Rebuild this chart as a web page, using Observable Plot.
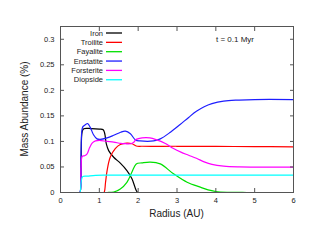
<!DOCTYPE html>
<html>
<head>
<meta charset="utf-8">
<script src="https://cdn.jsdelivr.net/npm/d3@7"></script>
<script src="https://cdn.jsdelivr.net/npm/@observablehq/plot@0.6"></script>
<style>
  html, body { margin: 0; padding: 0; background: #fff; }
  #chart svg { display: block; }
</style>
</head>
<body>
<div id="chart"></div>
<script>
// ---- data ----
const seriesNames = ["Iron", "Troilite", "Fayalite", "Enstatite", "Forsterite", "Diopside"];
const seriesColors = ["#000000", "#ff0000", "#00e000", "#1e1eff", "#ff00ff", "#00ffff"];

const ironR = [0.15, 0.4, 0.47, 0.5, 0.53, 0.56, 0.6, 0.8, 1.0, 1.1, 1.14, 1.18, 1.24, 1.37, 1.54, 1.71, 1.84, 1.95, 1.99, 2.03, 2.1, 2.5, 6];
const ironV = [0, 0, 0, 0, 0.06, 0.12, 0.125, 0.125, 0.124, 0.123, 0.115, 0.095, 0.082, 0.069, 0.0575, 0.043, 0.027, 0.004, 0, 0, 0, 0, 0];

const troiliteR = [0.15, 1.0, 1.07, 1.12, 1.16, 1.2, 1.28, 1.41, 1.54, 1.71, 1.84, 1.95, 2.1, 3, 4, 5, 6];
const troiliteV = [0, 0, 0, 0, 0.02, 0.043, 0.069, 0.086, 0.094, 0.0967, 0.0955, 0.091, 0.0905, 0.0905, 0.0903, 0.0898, 0.0895];

const fayaliteR = [0.15, 1.0, 1.2, 1.37, 1.54, 1.71, 1.84, 1.95, 2.1, 2.31, 2.57, 2.91, 3.26, 3.6, 3.8, 4.0, 4.3, 4.8, 6];
const fayaliteV = [0, 0, 0, 0.001, 0.007, 0.02, 0.04, 0.056, 0.058, 0.0595, 0.056, 0.0366, 0.02, 0.0104, 0.005, 0.002, 0.0005, 0, 0];

const enstatiteR = [0.15, 0.4, 0.47, 0.5, 0.53, 0.57, 0.63, 0.7, 0.77, 0.85, 0.94, 1.02, 1.2, 1.37, 1.55, 1.67, 1.8, 1.93, 2.05, 2.4, 2.57, 2.83, 3.08, 3.3, 3.5, 3.7, 3.9, 4.2, 4.6, 5, 6];
const enstatiteV = [0, 0, 0, 0, 0.08, 0.128, 0.132, 0.135, 0.127, 0.113, 0.105, 0.104, 0.107, 0.112, 0.118, 0.120, 0.115, 0.103, 0.101, 0.101, 0.105, 0.118, 0.133, 0.147, 0.159, 0.168, 0.174, 0.179, 0.181, 0.182, 0.182];

const forsteriteR = [0.15, 0.4, 0.47, 0.5, 0.53, 0.56, 0.62, 0.68, 0.75, 0.82, 0.9, 1.0, 1.2, 1.37, 1.55, 1.67, 1.8, 1.88, 1.95, 2.1, 2.3, 2.48, 2.7, 2.91, 3.1, 3.3, 3.5, 3.7, 3.9, 4.2, 4.6, 5, 6];
const forsteriteV = [0, 0, 0, 0, 0.05, 0.071, 0.072, 0.075, 0.088, 0.097, 0.101, 0.102, 0.1, 0.0987, 0.096, 0.0955, 0.0955, 0.098, 0.104, 0.107, 0.107, 0.103, 0.096, 0.086, 0.079, 0.073, 0.067, 0.06, 0.055, 0.0515, 0.05, 0.0497, 0.0497];

const diopsideR = [0.15, 0.4, 0.47, 0.5, 0.53, 0.57, 0.7, 0.9, 1.1, 2, 6];
const diopsideV = [0, 0, 0, 0, 0.02, 0.031, 0.032, 0.0335, 0.034, 0.034, 0.034];

const xTicks = [0, 1, 2, 3, 4, 5, 6];
const yTicks = [0, 0.05, 0.1, 0.15, 0.2, 0.25, 0.3];
const xLabel = "Radius (AU)";
const yLabel = "Mass Abundance (%)";
const annotation = "t = 0.1 Myr";

// ---- build table ----
const radii = [ironR, troiliteR, fayaliteR, enstatiteR, forsteriteR, diopsideR];
const values = [ironV, troiliteV, fayaliteV, enstatiteV, forsteriteV, diopsideV];
const rows = [];
seriesNames.forEach((name, i) => {
  radii[i].forEach((r, j) => rows.push({series: name, r, v: values[i][j]}));
});

const font = "'Liberation Sans', Arial, Helvetica, sans-serif";
const frameColor = "#555";

// legend, annotation and axis titles as a custom render mark
function legendMark(index, scales, vals, dims) {
  const g = d3.create("svg:g").attr("font-family", font).attr("fill", "#222");
  const textRight = 103, lineX1 = 106, lineX2 = 122, y0 = 33, step = 9.35;
  seriesNames.forEach((name, i) => {
    const y = y0 + i * step;
    g.append("text").attr("x", textRight).attr("y", y).attr("dy", "0.35em")
      .attr("text-anchor", "end").attr("font-size", 7.5).text(name);
    g.append("line").attr("x1", lineX1).attr("x2", lineX2).attr("y1", y).attr("y2", y)
      .attr("stroke", seriesColors[i]).attr("stroke-width", 1.3);
  });
  g.append("text").attr("x", 235).attr("y", 39).attr("dy", "0.35em")
    .attr("font-size", 8).text(annotation);
  const cx = (dims.marginLeft + dims.width - dims.marginRight) / 2;
  const cy = (dims.marginTop + dims.height - dims.marginBottom) / 2;
  g.append("text").attr("x", cx).attr("y", 213).attr("dy", "0.35em")
    .attr("text-anchor", "middle").attr("font-size", 10).text(xLabel);
  g.append("text").attr("transform", `translate(24,${cy}) rotate(-90)`).attr("dy", "0.35em")
    .attr("text-anchor", "middle").attr("font-size", 10).text(yLabel);
  return g.node();
}

const chart = Plot.plot({
  width: 312,
  height: 241,
  marginLeft: 60,
  marginRight: 19,
  marginTop: 26,
  marginBottom: 49,
  style: {fontFamily: font, fontSize: "7.5px", color: "#222", background: "#fff"},
  x: {domain: [0, 6]},
  y: {domain: [0, 0.325]},
  color: {domain: seriesNames, range: seriesColors},
  marks: [
    Plot.line(rows, {x: "r", y: "v", z: "series", stroke: "series", strokeWidth: 1.2, curve: "catmull-rom", clip: true}),
    Plot.frame({stroke: frameColor}),
    Plot.axisX(xTicks, {anchor: "bottom", tickSize: -4, tickPadding: 9, stroke: frameColor, label: null, fontSize: 7.5}),
    Plot.axisX(xTicks, {anchor: "top", tickSize: -4, tickFormat: () => "", label: null, stroke: frameColor}),
    Plot.axisY(yTicks, {anchor: "left", tickSize: -4, tickPadding: 10, stroke: frameColor, tickFormat: d => String(d), label: null, fontSize: 7.5}),
    Plot.axisY(yTicks, {anchor: "right", tickSize: -4, tickFormat: () => "", label: null, stroke: frameColor}),
    legendMark
  ]
});

document.getElementById("chart").appendChild(chart);
</script>
</body>
</html>
